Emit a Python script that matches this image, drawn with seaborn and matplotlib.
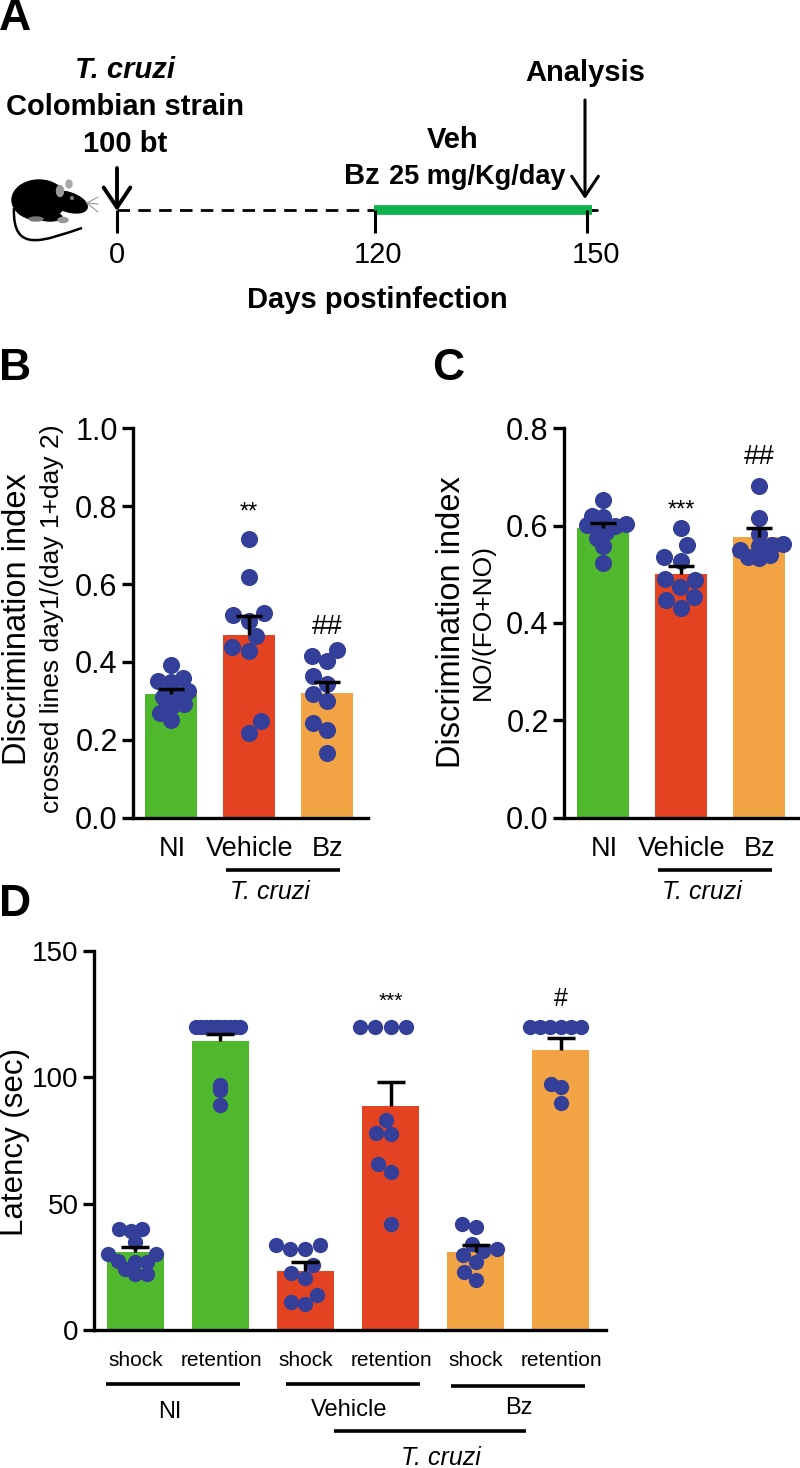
import warnings
import matplotlib
matplotlib.use("Agg")
import matplotlib.pyplot as plt
from matplotlib.collections import PathCollection
from matplotlib.patches import Ellipse, PathPatch, FancyArrowPatch
from matplotlib.path import Path
import seaborn as sns

warnings.filterwarnings("ignore")

W, H = 800, 1468

GREEN = "#50B82D"
RED = "#E34320"
ORANGE = "#F2A343"
DOT = "#333F98"
BAND = "#0DB14B"

# panel B
b_labels = ["NI", "Vehicle", "Bz"]
b_means = [0.317, 0.468, 0.320]
b_sem = [0.015, 0.049, 0.028]
b_ni = [0.393, 0.36, 0.352, 0.35, 0.325, 0.32, 0.31, 0.292, 0.285, 0.268, 0.252]
b_veh = [0.715, 0.618, 0.526, 0.52, 0.505, 0.466, 0.438, 0.427, 0.249, 0.217]
b_bz = [0.432, 0.415, 0.402, 0.363, 0.343, 0.318, 0.30, 0.243, 0.226, 0.167]

# panel C
c_labels = ["NI", "Vehicle", "Bz"]
c_means = [0.595, 0.50, 0.576]
c_sem = [0.011, 0.017, 0.018]
c_ni = [0.652, 0.62, 0.618, 0.604, 0.602, 0.6, 0.6, 0.587, 0.575, 0.557, 0.524]
c_veh = [0.595, 0.56, 0.535, 0.528, 0.49, 0.488, 0.473, 0.453, 0.448, 0.43]
c_bz = [0.68, 0.616, 0.583, 0.562, 0.56, 0.558, 0.55, 0.539, 0.535, 0.534]

# panel D
d_keys = ["NI shock", "NI retention", "Veh shock", "Veh retention", "Bz shock", "Bz retention"]
d_ticks = ["shock", "retention", "shock", "retention", "shock", "retention"]
d_means = [30.8, 114.4, 23.5, 88.5, 30.8, 111.0]
d_sem = [2.0, 2.8, 3.3, 9.5, 2.8, 4.4]
d_ni_shock = [40, 40, 39, 35, 30, 30, 27.5, 27, 27, 24, 22, 22]
d_ni_ret = [120, 120, 120, 120, 120, 120, 120, 120, 120, 120, 97, 95, 89]
d_veh_shock = [33.6, 33.6, 32, 32, 25.6, 22.5, 20.6, 14, 11, 10.4]
d_veh_ret = [120, 120, 120, 120, 83, 78, 77.6, 65.7, 62.7, 42]
d_bz_shock = [42, 40.6, 34, 32, 31.3, 29.6, 27, 22.8, 19.7]
d_bz_ret = [120, 120, 120, 120, 120, 120, 97.3, 96.3, 89.7]

# panel A
days = [0, 120, 150]

sns.set_style("ticks")
plt.rcParams["font.family"] = ["Liberation Sans", "DejaVu Sans"]
plt.rcParams["text.color"] = "black"
plt.rcParams["ytick.color"] = "black"
plt.rcParams["axes.edgecolor"] = "black"

fig = plt.figure(figsize=(W / 100, H / 100), dpi=100)


def axes_px(left, right, top, bottom):
    return fig.add_axes([left / W, 1 - bottom / H, (right - left) / W, (bottom - top) / H])


def panel(ax, keys, means, sem, groups, colors, layout, ymax, yticks, fmt, cap, tick_size):
    sns.barplot(x=keys, y=means, hue=keys, order=keys, palette=colors, width=0.667,
                errorbar=None, legend=False, ax=ax, saturation=1, linewidth=0)
    for key, vals, lay in zip(keys, groups, layout):
        sns.swarmplot(x=[key] * len(vals), y=vals, order=keys, color=DOT, size=lay,
                      zorder=3, ax=ax, linewidth=0)
    eb = ax.errorbar(range(len(keys)), means, yerr=[[0] * len(sem), sem], fmt="none", ecolor="black",
                     elinewidth=2.5, capsize=cap, capthick=2.5, zorder=5)
    eb[1][0].set_visible(False)  # only the upper cap
    ax.set_ylim(0, ymax)
    ax.set_yticks(yticks)
    ax.set_yticklabels([fmt.format(t) for t in yticks], fontsize=tick_size, color="black")
    ax.set_ylabel("")
    ax.set_xticks([])
    ax.patch.set_alpha(0)
    sns.despine(ax=ax)
    for side in ["left", "bottom"]:
        ax.spines[side].set_linewidth(2.4)
    ax.tick_params(axis="y", length=8, width=2.4, pad=3)


def freeze_swarm(ax, dot_size):
    # layout is done with the small size, dots are then drawn bigger so they overlap
    for coll in ax.collections:
        if not isinstance(coll, PathCollection):
            continue
        coll.__dict__.pop("draw", None)
        coll.set_sizes([dot_size ** 2])


ax_b = axes_px(133, 368, 428, 818)
panel(ax_b, b_labels, b_means, b_sem, [b_ni, b_veh, b_bz], [GREEN, RED, ORANGE],
      [9.0, 12.0, 11.0], 1.0, [0, 0.2, 0.4, 0.6, 0.8, 1.0], "{:.1f}", 9.4, 22)
ax_b.set_xlim(-0.487, 2.526)

ax_c = axes_px(564, 800, 428, 818)
panel(ax_c, c_labels, c_means, c_sem, [c_ni, c_veh, c_bz], [GREEN, RED, ORANGE],
      [7.5, 12.0, 7.5], 0.8, [0, 0.2, 0.4, 0.6, 0.8], "{:.1f}", 9.4, 22)
ax_c.set_xlim(-0.5, 2.526)

ax_d = axes_px(94, 606, 951, 1330)
panel(ax_d, d_keys, d_means, d_sem, [d_ni_shock, d_ni_ret, d_veh_shock, d_veh_ret, d_bz_shock, d_bz_ret],
      [GREEN, GREEN, RED, RED, ORANGE, ORANGE],
      [8.0, 3.4, 10.3, 10.3, 9.5, 7.0], 150, [0, 50, 100, 150], "{:d}", 10, 20)
ax_d.set_xlim(-0.488, 5.535)

fig.canvas.draw()
freeze_swarm(ax_b, 12.3)
freeze_swarm(ax_c, 12.3)
freeze_swarm(ax_d, 11)

ax_b.text(1, 0.783, "**", ha="center", va="center", fontsize=17)
ax_b.text(2, 0.49, "##", ha="center", va="center", fontsize=20)
ax_c.text(1, 0.63, "***", ha="center", va="center", fontsize=17)
ax_c.text(2, 0.74, "##", ha="center", va="center", fontsize=20)
ax_d.text(3, 130, "***", ha="center", va="center", fontsize=15)
ax_d.text(5, 131, "#", ha="center", va="center", fontsize=18)

# overlay in pixel units for the scheme, labels and group lines
ov = fig.add_axes([0, 0, 1, 1], zorder=10)
ov.set_xlim(0, W)
ov.set_ylim(H, 0)
ov.axis("off")


def label(x, y, s, size, **kw):
    ov.text(x, y, s, fontsize=size, ha=kw.pop("ha", "center"), va="center", **kw)


def rule(x0, x1, y, lw=2.6):
    ov.plot([x0, x1], [y, y], color="black", lw=lw, solid_capstyle="butt")


for s, x, y in [("A", 15, 18), ("B", 15, 368), ("C", 448, 368), ("D", 15, 905)]:
    label(x, y, s, 32, fontweight="bold")

# panel A
day_x = [117, 375, 587]
label(125, 70, "T. cruzi", 21, fontweight="bold", style="italic")
label(125, 107, "Colombian strain", 21, fontweight="bold")
label(125, 144, "100 bt", 21, fontweight="bold")
label(585, 73, "Analysis", 21, fontweight="bold")
label(453, 140, "Veh", 21, fontweight="bold")
label(344, 176, "Bz", 21, fontweight="bold", ha="left")
label(389, 177, "25 mg/Kg/day", 19.5, fontweight="bold", ha="left")
ov.plot([117, 374], [210, 210], color="black", lw=2, ls=(0, (4.5, 3)))
ov.plot([590, 597], [210, 210], color="black", lw=2)
ov.plot([374, 592], [210, 210], color=BAND, lw=7, solid_capstyle="butt")
for d, x in zip(days, day_x):
    ov.plot([x, x], [210, 233], color="black", lw=2.2, solid_capstyle="butt")
for d, x in zip(days, [117, 378, 596]):
    label(x, 255, str(d), 21)
label(377, 300, "Days postinfection", 21, fontweight="bold")
for x, y0, y1, lw in [(117, 168, 211, 2.8), (585, 100, 199, 2.2)]:
    ov.add_patch(FancyArrowPatch((x, y0), (x, y1), arrowstyle="->,head_length=9,head_width=6",
                                 color="black", lw=lw, shrinkA=0, shrinkB=0, mutation_scale=1.6))

# mouse
ov.add_patch(Ellipse((39, 200), 54, 40, color="black"))
ov.add_patch(Ellipse((68, 202), 40, 19, angle=18, color="black"))
ov.add_patch(Ellipse((50, 217), 24, 8, color="black"))
ov.add_patch(Ellipse((60, 191), 7, 11, color="#9a9a9a"))
ov.add_patch(Ellipse((69, 184), 6, 8, color="#a8a8a8"))
ov.add_patch(Ellipse((72, 198), 3, 3, color="#777777"))
ov.add_patch(Ellipse((36, 219), 14, 4, color="#777777"))
ov.add_patch(Ellipse((63, 220), 10, 5, color="#999999"))
ov.add_patch(PathPatch(Path([(14, 208), (12, 255), (45, 240), (82, 228)],
                            [Path.MOVETO, Path.CURVE4, Path.CURVE4, Path.CURVE4]),
                       fc="none", ec="black", lw=1.8))
for y_end in [197, 204, 212]:
    ov.plot([87, 98], [203, y_end], color="#999999", lw=0.8)

# panel B, C labels
label(18, 619, "Discrimination index", 23.5, rotation=90)
label(52, 619, "crossed lines day1/(day 1+day 2)", 19, rotation=90)
label(452, 622, "Discrimination index", 23.5, rotation=90)
label(483, 622, "NO/(FO+NO)", 19, rotation=90)
for off, xs in [(0, [172, 250, 328]), (432, [172, 250, 328])]:
    for s, x in zip(b_labels, xs):
        label(x + off, 849, s, 19.5)
    rule(226 + off, 340 + off, 870)
    label(270 + off, 892, "T. cruzi", 18, style="italic")

# panel D labels
label(15, 1142, "Latency (sec)", 22.5, rotation=90)
for s, x in zip(d_ticks, [136, 221, 306, 391, 476, 561]):
    label(x, 1360, s, 15)
rule(106, 240, 1384)
rule(286, 420, 1384)
rule(451, 585, 1386)
label(170, 1412, "NI", 17)
label(349, 1410, "Vehicle", 17)
label(519, 1408, "Bz", 17)
rule(334, 526, 1431)
label(441, 1458, "T. cruzi", 18, style="italic")

fig.savefig("out.png", dpi=100)
